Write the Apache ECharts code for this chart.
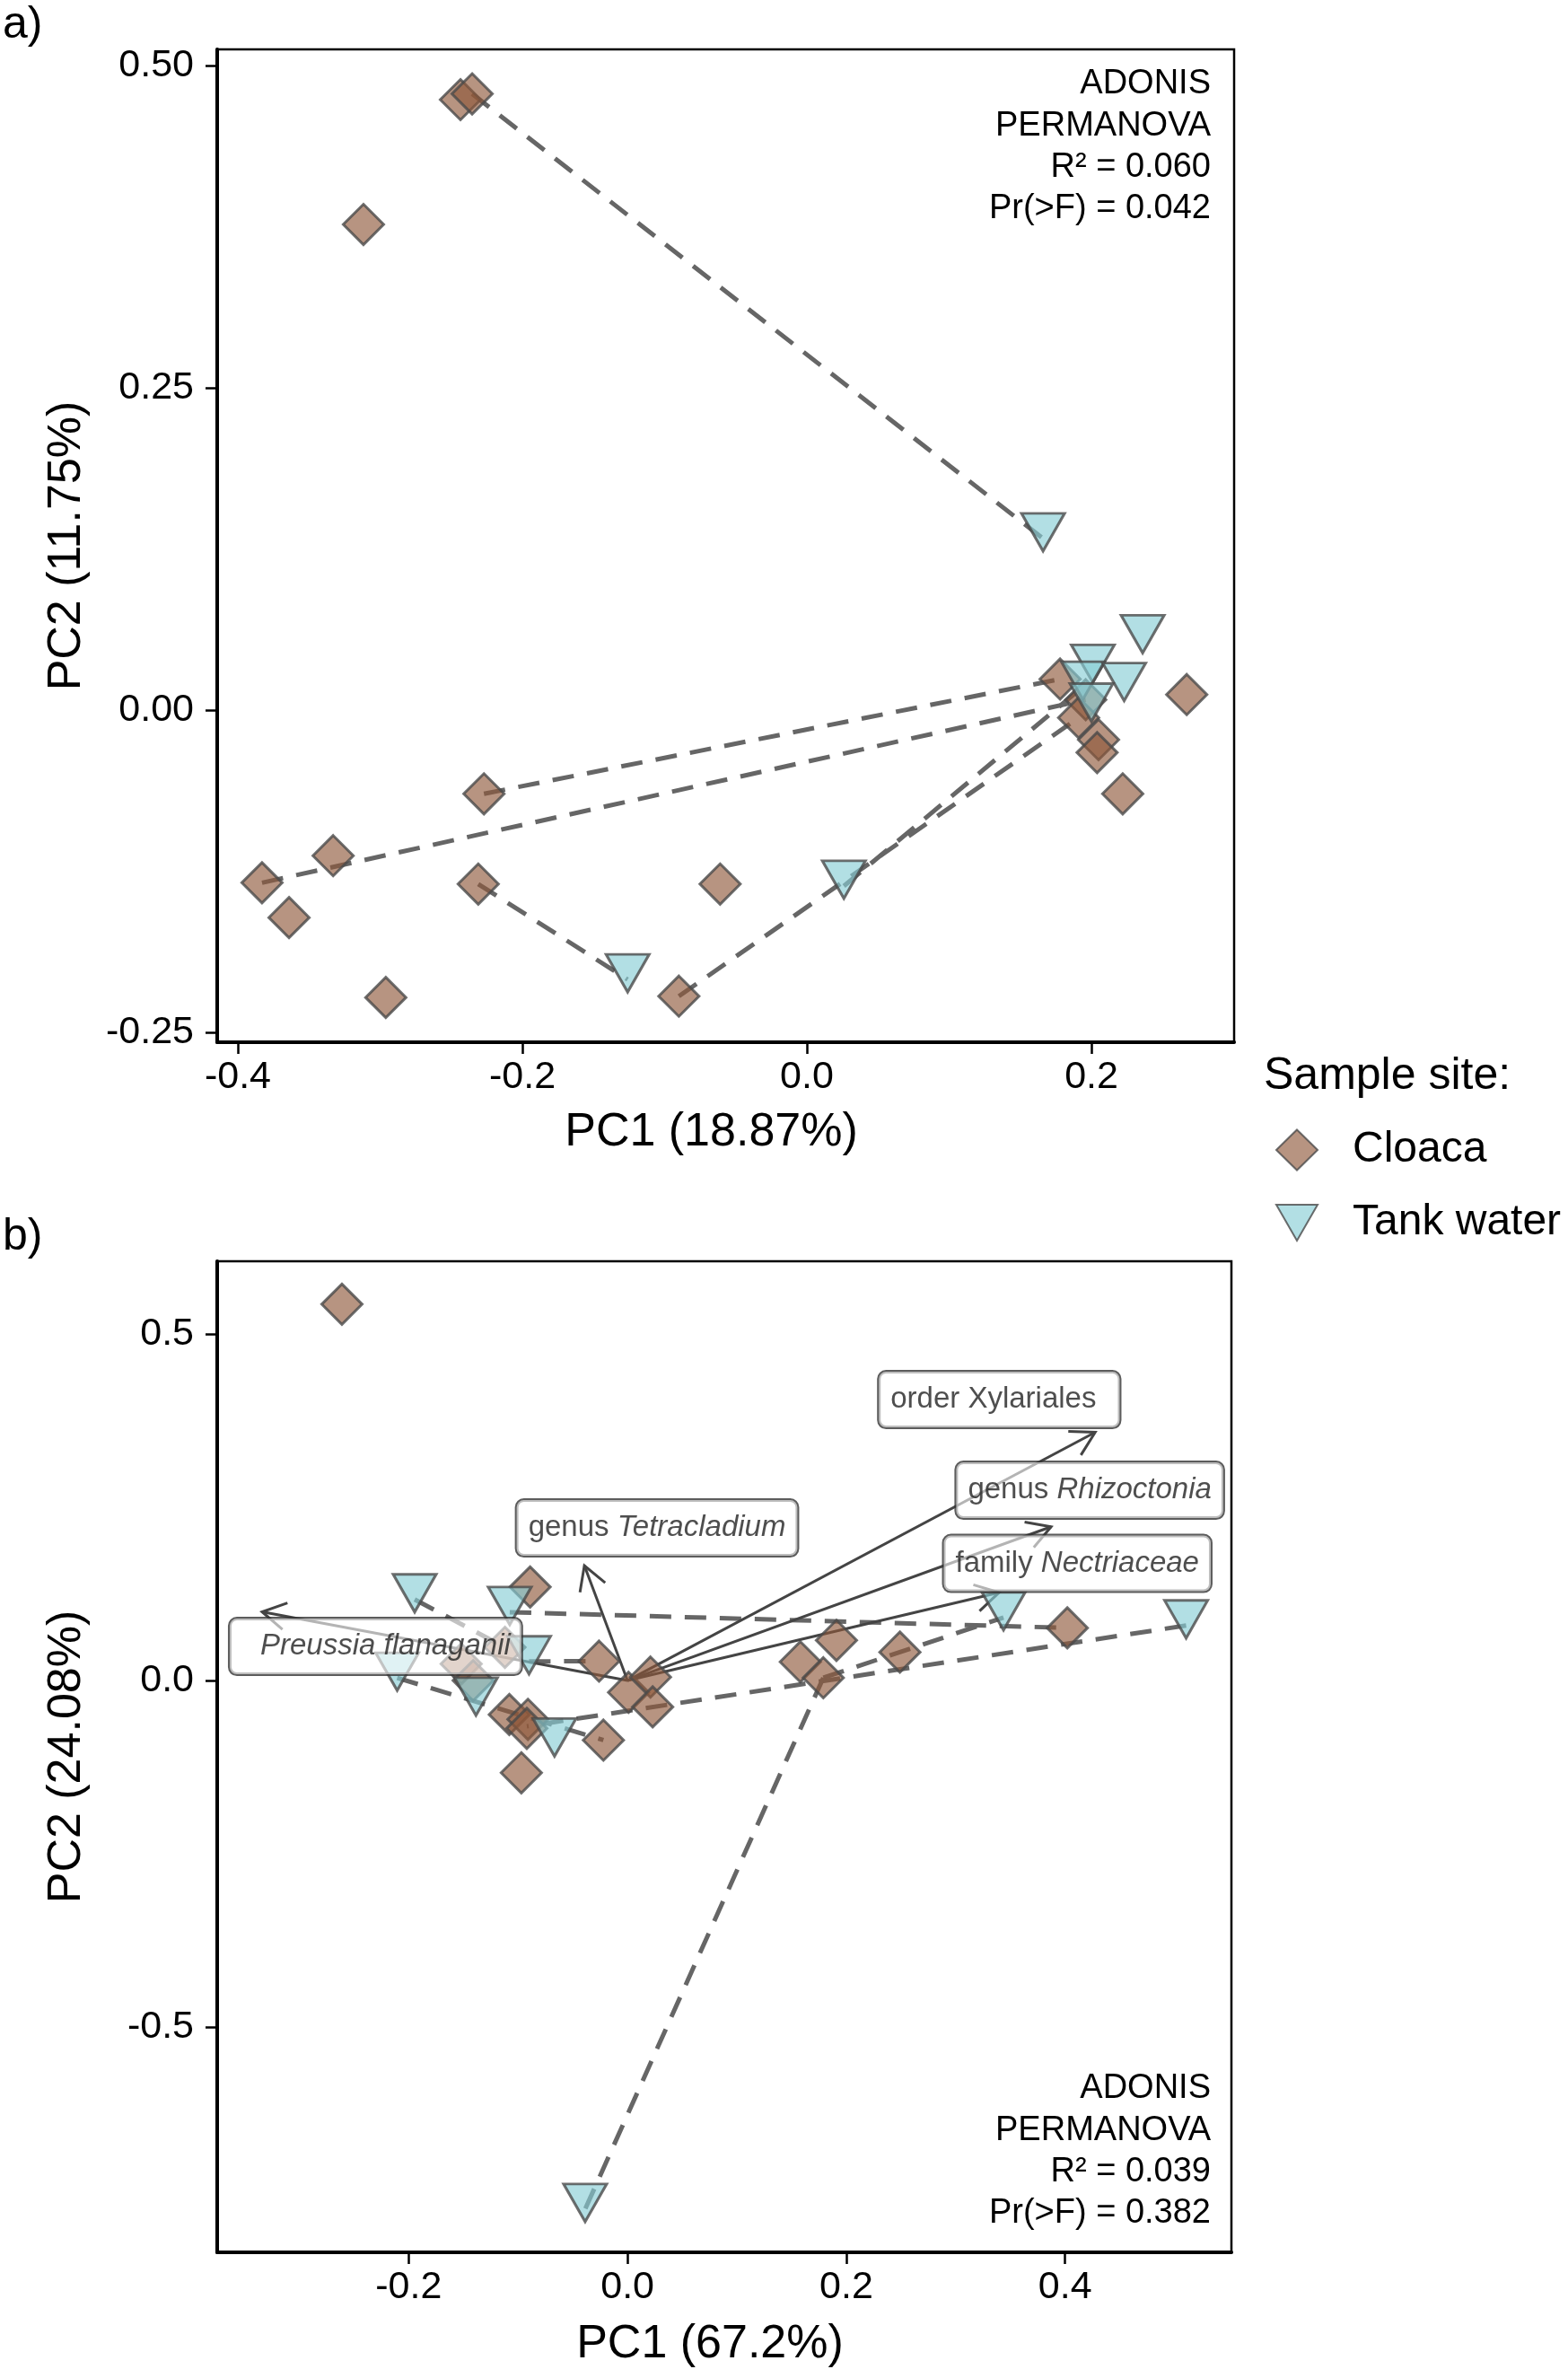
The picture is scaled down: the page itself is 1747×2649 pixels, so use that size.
<!DOCTYPE html>
<html>
<head>
<meta charset="utf-8">
<script src="https://cdn.jsdelivr.net/npm/echarts@6/dist/echarts.min.js"></script>
<style>
  html, body { margin: 0; padding: 0; background: #fff; }
  #chart { width: 1747px; height: 2649px; }
</style>
</head>
<body>
<div id="chart"></div>
<script>
const FONT = "'Liberation Sans', Arial, Helvetica, sans-serif";

// ---- panel a) PCoA ----
const cloacaA = [
  [-0.2435, 0.4735], [-0.2353, 0.478], [-0.3117, 0.3767],
  [-0.383, -0.134], [-0.333, -0.113], [-0.364, -0.161], [-0.296, -0.223],
  [-0.227, -0.065], [-0.231, -0.135], [-0.061, -0.135], [-0.090, -0.222],
  [0.178, 0.024], [0.267, 0.012], [0.196, 0.008], [0.191, -0.006],
  [0.205, -0.023], [0.204, -0.033], [0.222, -0.065]
];
const tankA = [
  [-0.126, -0.209], [0.026, -0.1365], [0.166, 0.133], [0.236, 0.054],
  [0.201, 0.031], [0.194, 0.018], [0.223, 0.017], [0.200, 0.001]
];
// dashed connections between paired samples
const pathsA = [
  [[-0.2353, 0.478], [0.166, 0.133]],
  [[-0.383, -0.134], [0.196, 0.008]],
  [[-0.227, -0.065], [0.178, 0.024]],
  [[-0.231, -0.135], [-0.126, -0.209]],
  [[-0.090, -0.222], [0.191, -0.006]],
  [[0.026, -0.1365], [0.194, 0.018]]
];
const ticksAx = [-0.4, -0.2, 0, 0.2];
const ticksAy = [-0.25, 0, 0.25, 0.5];
const statsA = ['ADONIS', 'PERMANOVA', 'R² = 0.060', 'Pr(>F) = 0.042'];

// ---- panel b) PCA with taxa loadings ----
const cloacaB = [
  [-0.261, 0.543],
  [-0.089, 0.135], [-0.152, 0.024], [-0.141, 0.000], [-0.112, 0.048],
  [-0.108, -0.049], [-0.091, -0.056], [-0.092, -0.069], [-0.022, -0.086], [-0.097, -0.133],
  [-0.026, 0.028], [0.001, -0.017], [0.021, 0.005], [0.023, -0.038],
  [0.158, 0.027], [0.191, 0.058], [0.179, 0.004], [0.249, 0.041], [0.402, 0.076]
];
const tankB = [
  [-0.1945, 0.117], [-0.1076, 0.0987], [-0.090, 0.0276], [-0.2105, 0.0039],
  [-0.1385, -0.032], [-0.0667, -0.091], [0.3437, 0.091], [0.5106, 0.0794], [-0.0387, -0.7627]
];
const pathsB = [
  [[-0.1076, 0.0987], [0.402, 0.076]],
  [[0.5106, 0.0794], [-0.092, -0.066]],
  [[0.179, 0.004], [-0.0387, -0.7627]],
  [[0.179, 0.004], [0.3437, 0.091]],
  [[-0.2105, 0.0039], [-0.022, -0.086]],
  [[-0.1945, 0.117], [-0.112, 0.048]],
  [[-0.090, 0.0276], [-0.026, 0.028]]
];
const arrowTips = [
  [0.4275, 0.3583], [0.3872, 0.2219], [0.3397, 0.1271], [-0.0394, 0.1658], [-0.334, 0.0992]
];
const taxonRank = ['order Xylariales', 'genus ', 'family ', 'genus ', ''];
const taxonItalic = ['', 'Rhizoctonia', 'Nectriaceae', 'Tetracladium', 'Preussia flanaganii'];
const labelPos = [
  [0.3398, 0.4054], [0.4225, 0.2746], [0.4111, 0.1690], [0.0270, 0.2202], [-0.2303, 0.0492]
];
const ticksBx = [-0.2, 0, 0.2, 0.4];
const ticksBy = [-0.5, 0, 0.5];
const statsB = ['ADONIS', 'PERMANOVA', 'R² = 0.039', 'Pr(>F) = 0.382'];

const TRI = 'path://M0,0L100,0L50,86.6Z';
const cloacaStyle = { color: 'rgba(143,88,58,0.8)', borderColor: '#4a4a4a', borderWidth: 3 };
const tankStyle = { color: 'rgba(135,205,212,0.8)', borderColor: '#4a4a4a', borderWidth: 3 };

function xAxisCfg(gi, min, max, ticks, digits, name, gap) {
  return {
    type: 'value', gridIndex: gi, min: min, max: max,
    name: name, nameLocation: 'middle', nameGap: gap,
    nameTextStyle: { fontSize: 52, color: '#000', fontFamily: FONT, padding: [0, 32, 0, 0] },
    axisLine: { show: true, onZero: false, lineStyle: { color: '#000', width: 4 } },
    axisTick: { show: true, length: 13, customValues: ticks, lineStyle: { color: '#000', width: 2.5 } },
    axisLabel: { customValues: ticks, formatter: v => v.toFixed(digits), fontSize: 43,
      color: '#000', fontFamily: FONT, margin: 18 },
    splitLine: { show: false }
  };
}
function yAxisCfg(gi, min, max, ticks, digits, name) {
  return {
    type: 'value', gridIndex: gi, min: min, max: max,
    name: name, nameLocation: 'middle', nameGap: 141, nameRotate: 90,
    nameTextStyle: { fontSize: 52, color: '#000', fontFamily: FONT },
    axisLine: { show: true, onZero: false, lineStyle: { color: '#000', width: 4 } },
    axisTick: { show: true, length: 13, customValues: ticks, lineStyle: { color: '#000', width: 2.5 } },
    axisLabel: { customValues: ticks, formatter: v => v.toFixed(digits), fontSize: 43,
      color: '#000', fontFamily: FONT, margin: 26 },
    splitLine: { show: false }
  };
}

function dashed(paths, gi) {
  return {
    type: 'lines', coordinateSystem: 'cartesian2d', xAxisIndex: gi, yAxisIndex: gi,
    silent: true, z: 1,
    lineStyle: { color: '#666', width: 5, type: [24, 15], opacity: 1, curveness: 0 },
    data: paths.map(p => ({ coords: p }))
  };
}
function points(name, data, gi, tri) {
  return {
    name: name, type: 'scatter', xAxisIndex: gi, yAxisIndex: gi, z: 3,
    symbol: tri ? TRI : 'diamond',
    symbolSize: tri ? [48, 42] : 45,
    symbolOffset: tri ? [0, -7] : [0, 0],
    itemStyle: tri ? tankStyle : cloacaStyle,
    emphasis: { disabled: true },
    data: data
  };
}

function statsText(lines, firstMid) {
  return lines.map((t, i) => ({
    type: 'text', x: 1349, y: firstMid + i * 46.3,
    style: { text: t, font: '38px ' + FONT, fill: '#000', align: 'right', verticalAlign: 'middle' }
  }));
}

const chart = echarts.init(document.getElementById('chart'), null, { renderer: 'canvas' });
chart.setOption({
  animation: false,
  backgroundColor: '#fff',
  grid: [
    { left: 242, top: 55, width: 1133, height: 1106, show: true, borderColor: '#000', borderWidth: 2.5, backgroundColor: 'transparent' },
    { left: 242, top: 1405, width: 1130, height: 1104, show: true, borderColor: '#000', borderWidth: 2.5, backgroundColor: 'transparent' }
  ],
  xAxis: [
    xAxisCfg(0, -0.4145, 0.3003, ticksAx, 1, 'PC1 (18.87%)', 75),
    xAxisCfg(1, -0.375, 0.552, ticksBx, 1, 'PC1 (67.2%)', 77)
  ],
  yAxis: [
    yAxisCfg(0, -0.2577, 0.5125, ticksAy, 2, 'PC2 (11.75%)'),
    yAxisCfg(1, -0.825, 0.605, ticksBy, 1, 'PC2 (24.08%)')
  ],
  legend: {
    orient: 'vertical', left: 1416, top: 1252, itemWidth: 46, itemHeight: 45, itemGap: 33,
    selectedMode: false,
    data: [{ name: 'Cloaca', icon: 'diamond' }, { name: 'Tank water', icon: TRI }],
    textStyle: { fontSize: 48, color: '#000', fontFamily: FONT, padding: [0, 0, 0, 34] }
  },
  graphic: [
    { type: 'text', x: 3, y: 28, style: { text: 'a)', font: '50px ' + FONT, fill: '#000', verticalAlign: 'middle' } },
    { type: 'text', x: 3, y: 1378, style: { text: 'b)', font: '50px ' + FONT, fill: '#000', verticalAlign: 'middle' } },
    { type: 'text', x: 1408, y: 1199, style: { text: 'Sample site:', font: '50px ' + FONT, fill: '#000', verticalAlign: 'middle' } }
  ].concat(statsText(statsA, 94), statsText(statsB, 2327)),
  series: [
    dashed(pathsA, 0),
    dashed(pathsB, 1),
    {
      type: 'custom', xAxisIndex: 1, yAxisIndex: 1, z: 2, silent: true,
      encode: { x: [0, 2], y: [1, 3] },
      data: arrowTips.map(t => [0, 0, t[0], t[1]]),
      renderItem: (params, api) => {
        const p0 = api.coord([api.value(0), api.value(1)]);
        const p1 = api.coord([api.value(2), api.value(3)]);
        const ang = Math.atan2(p1[1] - p0[1], p1[0] - p0[0]);
        const h = 30, a = Math.PI / 6;
        const b1 = [p1[0] - h * Math.cos(ang - a), p1[1] - h * Math.sin(ang - a)];
        const b2 = [p1[0] - h * Math.cos(ang + a), p1[1] - h * Math.sin(ang + a)];
        return {
          type: 'group',
          children: [
            { type: 'line', shape: { x1: p0[0], y1: p0[1], x2: p1[0], y2: p1[1] },
              style: { stroke: '#444', lineWidth: 3 } },
            { type: 'polyline', shape: { points: [b1, p1, b2] },
              style: { stroke: '#444', lineWidth: 3, fill: 'none' } }
          ]
        };
      }
    },
    points('Cloaca', cloacaA, 0, false),
    points('Tank water', tankA, 0, true),
    points('Cloaca', cloacaB, 1, false),
    points('Tank water', tankB, 1, true),
    {
      type: 'scatter', xAxisIndex: 1, yAxisIndex: 1, z: 4, silent: true,
      symbolSize: 1, itemStyle: { color: 'transparent' },
      data: labelPos.map((p, i) => ({
        value: p,
        label: { padding: i === 0 ? [12, 26, 12, 13] : (i === 4 ? [12, 12, 12, 34] : [12, 13, 12, 13]) }
      })),
      label: {
        show: true, position: 'inside',
        formatter: p => {
          const i = p.dataIndex;
          return taxonRank[i] + (taxonItalic[i] ? '{it|' + taxonItalic[i] + '}' : '');
        },
        fontSize: 33, color: '#222', fontFamily: FONT, lineHeight: 38,
        backgroundColor: 'rgba(255,255,255,0.75)', borderColor: '#333', borderWidth: 2, borderRadius: 8,
        rich: { it: { fontStyle: 'italic', fontSize: 33, color: '#222', fontFamily: FONT, lineHeight: 38 } }
      }
    }
  ]
});
</script>
</body>
</html>
